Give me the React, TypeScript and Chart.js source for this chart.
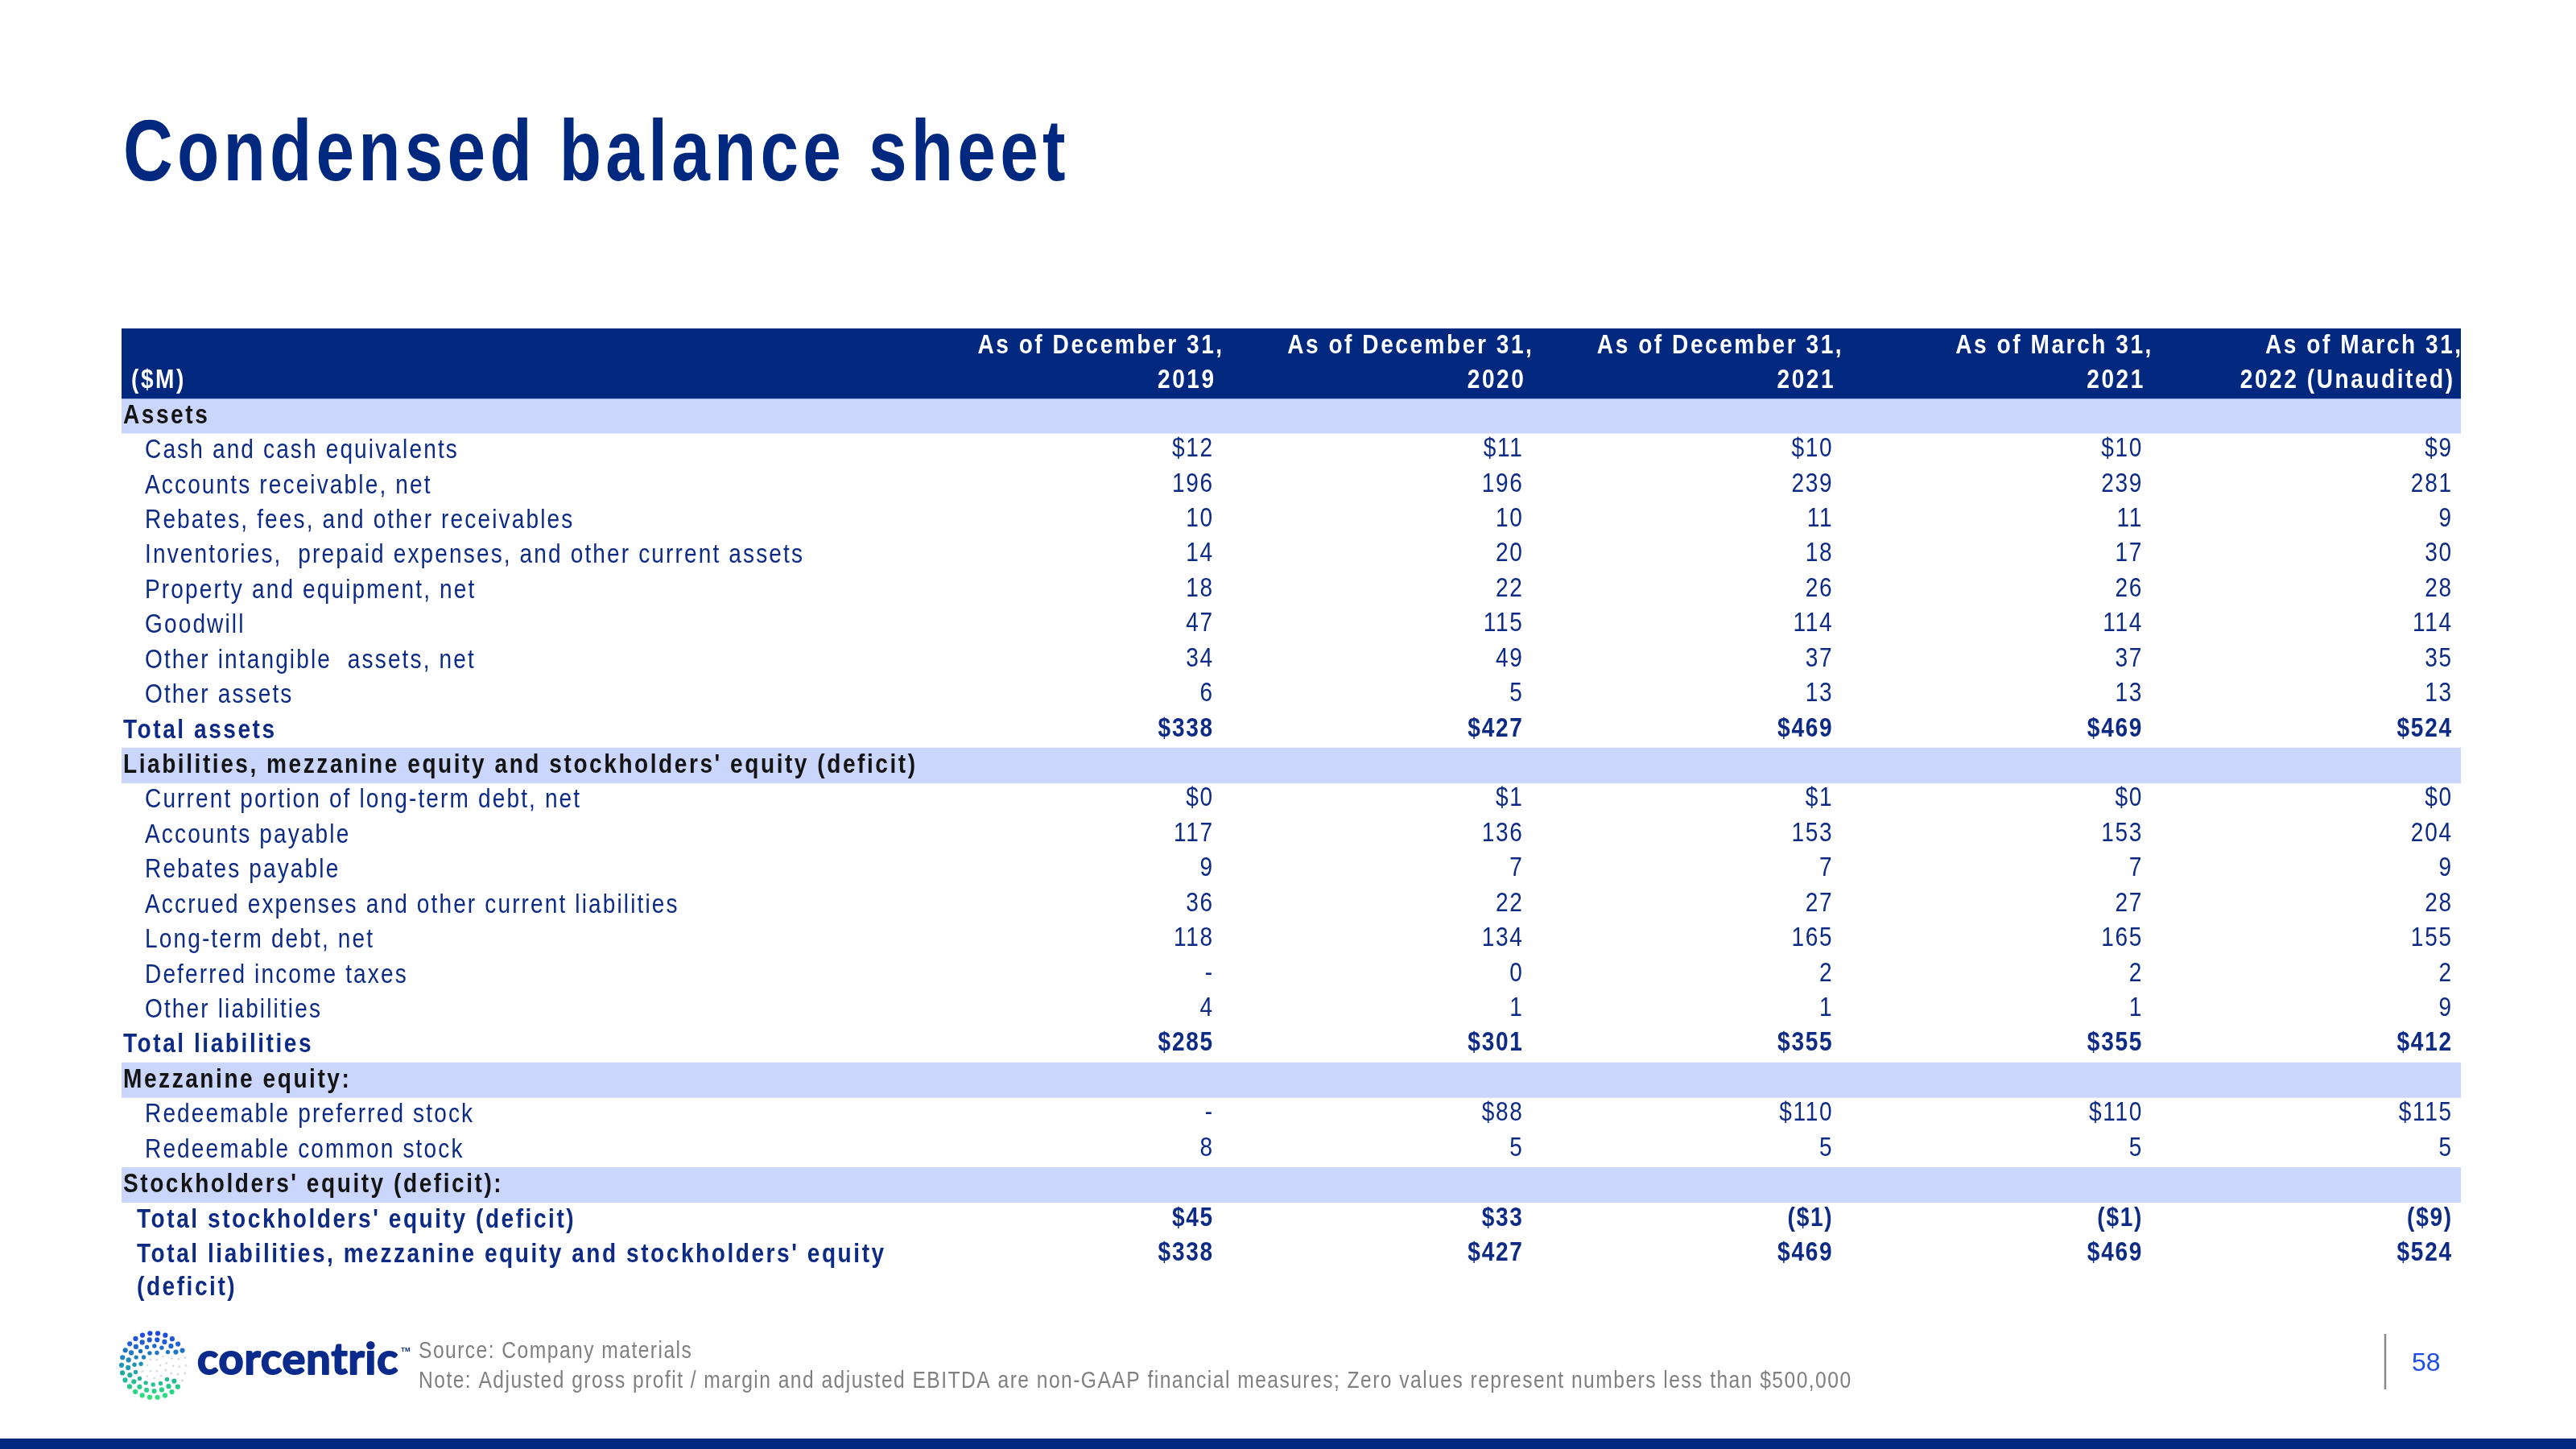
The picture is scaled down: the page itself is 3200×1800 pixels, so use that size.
import React, { useEffect, useRef } from "react";
import { Chart, registerables } from "chart.js";
Chart.register(...registerables);

// ---------- data ----------
const titleText = "Condensed balance sheet";
const unitLabel = "($M)";
const headerLine1 = ["As of December 31,", "As of December 31,", "As of December 31,", "As of March 31,", "As of March 31,"];
const headerLine2 = ["2019", "2020", "2021", "2021", "2022 (Unaudited)"];

const rowLabels = [
  "Assets",
  "Cash and cash equivalents",
  "Accounts receivable, net",
  "Rebates, fees, and other receivables",
  "Inventories,  prepaid expenses, and other current assets",
  "Property and equipment, net",
  "Goodwill",
  "Other intangible  assets, net",
  "Other assets",
  "Total assets",
  "Liabilities, mezzanine equity and stockholders' equity (deficit)",
  "Current portion of long-term debt, net",
  "Accounts payable",
  "Rebates payable",
  "Accrued expenses and other current liabilities",
  "Long-term debt, net",
  "Deferred income taxes",
  "Other liabilities",
  "Total liabilities",
  "Mezzanine equity:",
  "Redeemable preferred stock",
  "Redeemable common stock",
  "Stockholders' equity (deficit):",
  "Total stockholders' equity (deficit)",
  "Total liabilities, mezzanine equity and stockholders' equity (deficit)",
];
// section | first ($ item) | item | total | grand
const rowKinds = [
  "section", "first", "item", "item", "item", "item", "item", "item", "item", "total",
  "section", "first", "item", "item", "item", "item", "item", "item", "total",
  "section", "first", "item",
  "section", "grand", "grand",
];

const valuesDec2019 = [null, 12, 196, 10, 14, 18, 47, 34, 6, 338, null, 0, 117, 9, 36, 118, null, 4, 285, null, null, 8, null, 45, 338];
const valuesDec2020 = [null, 11, 196, 10, 20, 22, 115, 49, 5, 427, null, 1, 136, 7, 22, 134, 0, 1, 301, null, 88, 5, null, 33, 427];
const valuesDec2021 = [null, 10, 239, 11, 18, 26, 114, 37, 13, 469, null, 1, 153, 7, 27, 165, 2, 1, 355, null, 110, 5, null, -1, 469];
const valuesMar2021 = [null, 10, 239, 11, 17, 26, 114, 37, 13, 469, null, 0, 153, 7, 27, 165, 2, 1, 355, null, 110, 5, null, -1, 469];
const valuesMar2022 = [null, 9, 281, 9, 30, 28, 114, 35, 13, 524, null, 0, 204, 9, 28, 155, 2, 9, 412, null, 115, 5, null, -9, 524];
const columns = [valuesDec2019, valuesDec2020, valuesDec2021, valuesMar2021, valuesMar2022];

const sourceText = "Source: Company materials";
const noteText = "Note: Adjusted gross profit / margin and adjusted EBITDA are non-GAAP financial measures; Zero values represent numbers less than $500,000";
const logoText = "corcentric";
const pageNumber = "58";

// ---------- style ----------
const NAVY = "#00287F";
const BAND = "#CAD6FB";
const TEXT = "#0D2B85";
const BLACK = "#141414";
const FONT = '"Liberation Sans", Arial, sans-serif';
const X_MIN = -2.522;
const X_MAX = 5.031;

type TOpt = { size: number; bold?: boolean; color: string; align?: CanvasTextAlign; baseline?: CanvasTextBaseline; sx?: number; spacing?: number; family?: string; stroke?: number };

function setFont(ctx: CanvasRenderingContext2D, o: TOpt) {
  ctx.font = `${o.bold ? "bold " : ""}${o.size}px ${o.family || FONT}`;
  (ctx as any).letterSpacing = `${o.spacing ?? 0}px`;
}

function drawText(ctx: CanvasRenderingContext2D, text: string, x: number, y: number, o: TOpt) {
  ctx.save();
  setFont(ctx, o);
  ctx.fillStyle = o.color;
  ctx.textBaseline = o.baseline || "middle";
  ctx.textAlign = o.align || "left";
  const sx = o.sx ?? 1;
  const adj = o.align === "right" ? (o.spacing ?? 0) * sx : 0;
  ctx.translate(x + adj, y);
  ctx.scale(sx, 1);
  ctx.fillText(text, 0, 0);
  if (o.stroke) {
    ctx.strokeStyle = o.color;
    ctx.lineWidth = o.stroke;
    ctx.lineJoin = "round";
    ctx.strokeText(text, 0, 0);
  }
  ctx.restore();
}

function measure(ctx: CanvasRenderingContext2D, text: string, o: TOpt) {
  ctx.save();
  setFont(ctx, o);
  const w = ctx.measureText(text).width * (o.sx ?? 1);
  ctx.restore();
  return w;
}

function wrap(ctx: CanvasRenderingContext2D, text: string, maxW: number, o: TOpt) {
  const words = text.split(" ");
  const lines: string[] = [];
  let cur = "";
  for (const w of words) {
    const t = cur ? cur + " " + w : w;
    if (cur && measure(ctx, t, o) > maxW) {
      lines.push(cur);
      cur = w;
    } else cur = t;
  }
  if (cur) lines.push(cur);
  return lines;
}

function fmt(v: number | null, dollar: boolean) {
  if (v === null) return "-";
  const s = (dollar ? "$" : "") + Math.abs(v);
  return v < 0 ? `(${s})` : s;
}

function lerpColor(a: number[], b: number[], t: number) {
  return `rgb(${Math.round(a[0] + (b[0] - a[0]) * t)},${Math.round(a[1] + (b[1] - a[1]) * t)},${Math.round(a[2] + (b[2] - a[2]) * t)})`;
}

function drawLogo(ctx: CanvasRenderingContext2D, cx: number, cy: number) {
  const rings = [
    { r: 8, n: 6 },
    { r: 16, n: 11 },
    { r: 24, n: 16 },
    { r: 32, n: 21 },
    { r: 40, n: 26 },
  ];
  const blue = [32, 72, 220];
  const teal = [30, 150, 178];
  const green = [44, 226, 122];
  rings.forEach((ring, ri) => {
    for (let j = 0; j < ring.n; j++) {
      const a = (2 * Math.PI * j) / ring.n + ri * 0.18;
      const x = cx + ring.r * Math.cos(a);
      const y = cy - ring.r * Math.sin(a);
      let deg = ((a * 180) / Math.PI) % 360;
      if (deg > 180) deg -= 360;
      let colored = false;
      if (ring.r >= 24 && !(deg > -32 && deg < 26)) colored = true;
      if (ring.r === 16 && deg > 55 && deg < 215) colored = true;
      ctx.beginPath();
      if (colored) {
        const t = Math.min(1, Math.max(0, (y - (cy - 40)) / 80));
        ctx.fillStyle = t < 0.5 ? lerpColor(blue, teal, t / 0.5) : lerpColor(teal, green, (t - 0.5) / 0.5);
        ctx.arc(x, y, ring.r >= 32 ? 3.1 : 2.7, 0, Math.PI * 2);
      } else {
        ctx.fillStyle = "#d9dde5";
        ctx.arc(x, y, 1.5, 0, Math.PI * 2);
      }
      ctx.fill();
    }
  });
}

const tablePlugin = {
  id: "tableText",
  beforeDraw(chart: any) {
    const ctx: CanvasRenderingContext2D = chart.ctx;
    ctx.save();
    ctx.fillStyle = "#ffffff";
    ctx.fillRect(0, 0, chart.width, chart.height);
    ctx.restore();
  },
  afterDatasetsDraw(chart: any) {
    const ctx: CanvasRenderingContext2D = chart.ctx;
    const xs = chart.scales.x;
    const ys = chart.scales.y;
    const left = chart.chartArea.left;
    const slotH = Math.abs(ys.getPixelForValue(1) - ys.getPixelForValue(0));

    // title
    drawText(ctx, titleText, left + 2, 224, { size: 107, bold: true, color: NAVY, baseline: "alphabetic", sx: 0.8, spacing: 6.5 });

    // header
    drawText(ctx, unitLabel, left + 12, ys.getPixelForValue(1), { size: 33, bold: true, color: "#ffffff", sx: 0.85, spacing: 3 });
    for (let k = 0; k < headerLine1.length; k++) {
      const rx = xs.getPixelForValue(k + 1);
      drawText(ctx, headerLine1[k], rx + 12, ys.getPixelForValue(0), { size: 33, bold: true, color: "#ffffff", align: "right", sx: 0.85, spacing: 3 });
      drawText(ctx, headerLine2[k], rx + 2, ys.getPixelForValue(1), { size: 33, bold: true, color: "#ffffff", align: "right", sx: 0.85, spacing: 3 });
    }

    // rows
    const valueLeft = xs.getPixelForValue(0);
    rowLabels.forEach((label, i) => {
      const kind = rowKinds[i];
      const y = ys.getPixelForValue(i + 2);
      let o: TOpt;
      let x: number;
      if (kind === "section") {
        o = { size: 33, bold: true, color: BLACK, sx: 0.85, spacing: 3 };
        x = left + 2;
      } else if (kind === "total") {
        o = { size: 33, bold: true, color: TEXT, sx: 0.85, spacing: 3 };
        x = left + 2;
      } else if (kind === "grand") {
        o = { size: 33, bold: true, color: TEXT, sx: 0.85, spacing: 3 };
        x = left + 19;
      } else {
        o = { size: 33, color: TEXT, sx: 0.85, spacing: 2.5 };
        x = left + 29;
      }
      const lines = kind === "grand" ? wrap(ctx, label, valueLeft - x - 20, o) : [label];
      lines.forEach((ln, li) => drawText(ctx, ln, x, y + li * slotH * 0.95, o));

      if (kind === "section") return;
      const bold = kind === "total" || kind === "grand";
      const dollar = kind !== "item";
      const vo: TOpt = bold
        ? { size: 33, bold: true, color: TEXT, align: "right", sx: 0.85, spacing: 2 }
        : { size: 33, color: TEXT, align: "right", sx: 0.85, spacing: 2 };
      columns.forEach((col, k) => {
        const rx = xs.getPixelForValue(k + 1);
        drawText(ctx, fmt(col[i], dollar), rx, y - 2, vo);
      });
    });

    // footer
    drawLogo(ctx, 191, 1696);
    drawText(ctx, logoText, 245, 1707, { size: 54, bold: true, color: "#0B2B8C", baseline: "alphabetic", family: "Lato, sans-serif", spacing: 1, stroke: 2 });
    drawText(ctx, "TM", 498, 1677, { size: 8, bold: true, color: "#0B2B8C" });
    drawText(ctx, sourceText, 520, 1679, { size: 29, color: "#808080", sx: 0.85, spacing: 1.7 });
    drawText(ctx, noteText, 520, 1716, { size: 29, color: "#808080", sx: 0.85, spacing: 1.7 });

    ctx.save();
    ctx.strokeStyle = "#8a8a8a";
    ctx.lineWidth = 2.5;
    ctx.beginPath();
    ctx.moveTo(2963, 1657);
    ctx.lineTo(2963, 1726);
    ctx.stroke();
    ctx.fillStyle = NAVY;
    ctx.fillRect(0, 1787, chart.width, 13);
    ctx.restore();
    drawText(ctx, pageNumber, 2996, 1694, { size: 32, color: "#1F4BE6" });
  },
};

export default function App() {
  const ref = useRef<HTMLCanvasElement | null>(null);
  useEffect(() => {
    if (!ref.current) return;
    const slots = ["", unitLabel, ...rowLabels, ""];
    const headerBand = slots.map((_, i) => (i < 2 ? [X_MIN, X_MAX] : null));
    const sectionBand = slots.map((_, i) => (i >= 2 && rowKinds[i - 2] === "section" ? [X_MIN, X_MAX] : null));
    const chart = new Chart(ref.current, {
      type: "bar",
      data: {
        labels: slots,
        datasets: [
          { data: headerBand as any, backgroundColor: NAVY, barPercentage: 1, categoryPercentage: 1, grouped: false, borderWidth: 0 },
          { data: sectionBand as any, backgroundColor: BAND, barPercentage: 1, categoryPercentage: 1, grouped: false, borderWidth: 0 },
        ],
      },
      options: {
        indexAxis: "y",
        responsive: false,
        animation: false,
        devicePixelRatio: 1,
        layout: { padding: { left: 151, right: 143, top: 408, bottom: 176 } },
        plugins: { legend: { display: false }, tooltip: { enabled: false }, title: { display: false } },
        scales: {
          x: { type: "linear", min: X_MIN, max: X_MAX, display: false },
          y: { type: "category", display: false, offset: true },
        },
      },
      plugins: [tablePlugin],
    });
    return () => chart.destroy();
  }, []);
  return (
    <div style={{ position: "absolute", left: 0, top: 0, width: 3200, height: 1800, background: "#fff" }}>
      <canvas ref={ref} width={3200} height={1800} style={{ width: 3200, height: 1800, display: "block" }} />
    </div>
  );
}
